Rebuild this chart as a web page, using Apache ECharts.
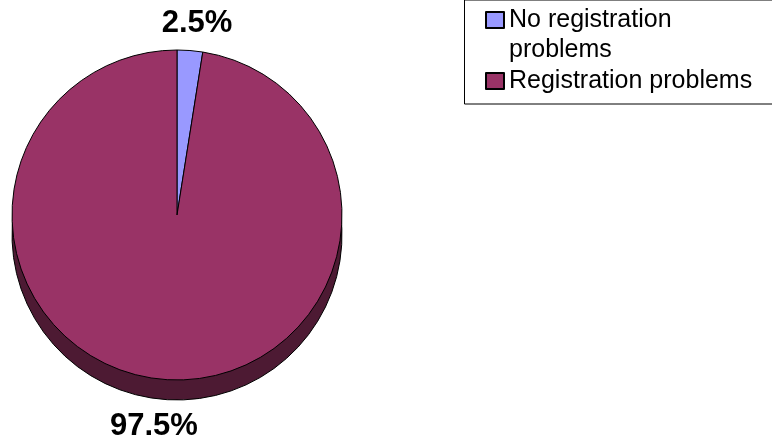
<!DOCTYPE html>
<html>
<head>
<meta charset="utf-8">
<script src="https://cdn.jsdelivr.net/npm/echarts@6/dist/echarts.min.js"></script>
<style>
  html, body { margin: 0; padding: 0; background: #fff; }
  #chart { width: 772px; height: 444px; }
</style>
</head>
<body>
<div id="chart"></div>
<script>
// data
const categories = ['No registration problems', 'Registration problems']
const shares = [2.5, 97.5]
const topColors = ['#9999ff', '#993366']
const sideColors = ['#4d4d80', '#4d1a33']

// pie geometry
const cx = 177
const cy = 215
const radius = 165
const depth = 20 // height of the pie's side
const font = 'Arial, "Liberation Sans", sans-serif'

const chart = echarts.init(document.getElementById('chart'))

const topData = categories.map((name, i) => ({
  name: name,
  value: shares[i],
  itemStyle: { color: topColors[i] }
}))
const sideData = categories.map((name, i) => ({
  name: name,
  value: shares[i],
  itemStyle: { color: sideColors[i] }
}))

const option = {
  animation: false,
  backgroundColor: '#fff',
  graphic: [
    {
      // legend frame, runs off the right edge
      type: 'rect',
      silent: true,
      shape: { x: 464.5, y: 0, width: 400, height: 104 },
      style: { fill: 'none', stroke: '#000', lineWidth: 1 }
    }
  ],
  legend: {
    orient: 'vertical',
    left: 485,
    top: -25,
    padding: 0,
    icon: 'rect',
    itemWidth: 18,
    itemHeight: 16,
    itemGap: 1,
    selectedMode: false,
    // the first entry wraps; an empty leading line keeps its box on the first line
    formatter: (name) => (categories.indexOf(name) === 0 ? '\n' + name : name),
    textStyle: {
      fontFamily: font,
      fontSize: 25,
      color: '#000',
      lineHeight: 30,
      width: 250,
      overflow: 'break'
    },
    data: categories
  },
  series: [
    {
      type: 'pie',
      name: 'top',
      z: 3,
      center: [cx, cy],
      radius: radius,
      startAngle: 90,
      clockwise: true,
      silent: true,
      avoidLabelOverlap: false,
      percentPrecision: 1,
      itemStyle: { borderColor: '#000', borderWidth: 1 },
      label: {
        show: true,
        position: 'outside',
        formatter: '{d}%',
        fontFamily: font,
        fontSize: 31,
        fontWeight: 'bold',
        color: '#000',
        distanceToLabelLine: 5
      },
      labelLine: { show: false, length: 27, length2: 0 },
      labelLayout: (params) => {
        const r = params.labelRect
        const below = r.y + r.height / 2 > cy
        return { align: 'center', dx: below ? -3 : 0, dy: below ? depth : 0 }
      },
      data: topData
    },
    {
      type: 'pie',
      name: 'side',
      z: 2,
      center: [cx, cy + depth],
      radius: radius,
      startAngle: 90,
      clockwise: true,
      silent: true,
      itemStyle: { borderColor: '#000', borderWidth: 1 },
      label: { show: false },
      labelLine: { show: false },
      data: sideData
    }
  ]
}

chart.setOption(option)
</script>
</body>
</html>
